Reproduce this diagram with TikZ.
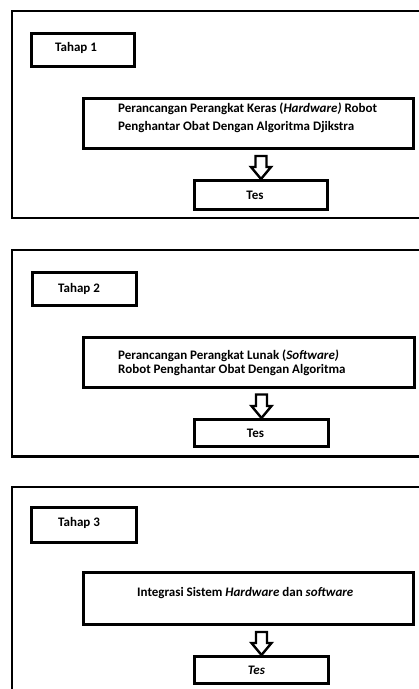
\documentclass[tikz,border=0pt]{standalone}
\usepackage{fontspec}
\setmainfont{Carlito}
\usetikzlibrary{calc}
\tikzset{
  panel/.style={draw, line width=2.4pt},
  box/.style={draw, line width=3pt, inner sep=0pt},
  txt/.style={font=\fontsize{13}{15}\selectfont\bfseries, inner sep=0pt},
  blockarrow/.style={draw, line width=2.4pt, fill=white, line join=miter},
}
\begin{document}
\begin{tikzpicture}[x=1pt,y=-1pt]
\useasboundingbox (0,0) rectangle (419,689);
\clip (0,0) rectangle (419,689);
% ---------- Panel 1
\draw[panel] (12,11) rectangle (430,218);
\node[box, minimum width=103pt, minimum height=33pt, anchor=north west] (t1) at (30,32) {};
\node[txt, anchor=base west] (t1l) at (55,51) {Tahap 1};
\node[box, minimum width=330pt, minimum height=50pt, anchor=north west] (b1) at (82,97) {};
\node[txt, anchor=base west] (b1a) at (118,112) {Perancangan Perangkat Keras (\textit{Hardware)} Robot};
\node[txt, anchor=base west] (b1b) at (118,130.5) {Penghantar Obat Dengan Algoritma Djikstra};
\node[box, minimum width=133pt, minimum height=29pt, anchor=north west] (s1) at (193,179) {};
\node[txt] (s1l) at ($(s1.center)+(-6,0)$) {Tes};
\draw[blockarrow] let \p1=(b1.south), \p2=(s1.north) in
  (\x2-5.5pt,\y1-6pt) -- (\x2+5.5pt,\y1-6pt) -- (\x2+5.5pt,\y2+12pt) -- (\x2+10pt,\y2+12pt)
  -- (\x2,\y2) -- (\x2-10pt,\y2+12pt) -- (\x2-5.5pt,\y2+12pt) -- cycle;
% ---------- Panel 2
\draw[panel] (12,250) rectangle (430,456.5);
\node[box, minimum width=104pt, minimum height=33pt, anchor=north west] (t2) at (31,271) {};
\node[txt, anchor=base west] (t2l) at (58,292) {Tahap 2};
\node[box, minimum width=331pt, minimum height=49.5pt, anchor=north west] (b2) at (82,336) {};
\node[txt, anchor=base west] (b2a) at (118,359.3) {Perancangan Perangkat Lunak (\textit{Software)}};
\node[txt, anchor=base west] (b2b) at (118,373.8) {Robot Penghantar Obat Dengan Algoritma};
\node[box, minimum width=134pt, minimum height=27pt, anchor=north west] (s2) at (193,418) {};
\node[txt] (s2l) at ($(s2.center)+(-6,0)$) {Tes};
\draw[blockarrow] let \p1=(b2.south), \p2=(s2.north) in
  (\x2-5.5pt,\y1-6pt) -- (\x2+5.5pt,\y1-6pt) -- (\x2+5.5pt,\y2+12pt) -- (\x2+10pt,\y2+12pt)
  -- (\x2,\y2) -- (\x2-10pt,\y2+12pt) -- (\x2-5.5pt,\y2+12pt) -- cycle;
% ---------- Panel 3
\draw[panel] (12,487) rectangle (430,700);
\node[box, minimum width=105pt, minimum height=35pt, anchor=north west] (t3) at (30,506) {};
\node[txt, anchor=base west] (t3l) at (58,526) {Tahap 3};
\node[box, minimum width=330pt, minimum height=52pt, anchor=north west] (b3) at (82,571) {};
\node[txt, anchor=base west] (b3a) at (137,596) {Integrasi Sistem \textit{Hardware} dan \textit{software}};
\node[box, minimum width=134pt, minimum height=27pt, anchor=north west] (s3) at (193,655) {};
\node[txt] (s3l) at ($(s3.center)+(-5,0)$) {\textit{Tes}};
\draw[blockarrow] let \p1=(b3.south), \p2=(s3.north) in
  (\x2-5.5pt,\y1-6pt) -- (\x2+5.5pt,\y1-6pt) -- (\x2+5.5pt,\y2+12pt) -- (\x2+10pt,\y2+12pt)
  -- (\x2,\y2) -- (\x2-10pt,\y2+12pt) -- (\x2-5.5pt,\y2+12pt) -- cycle;
\end{tikzpicture}
\end{document}
